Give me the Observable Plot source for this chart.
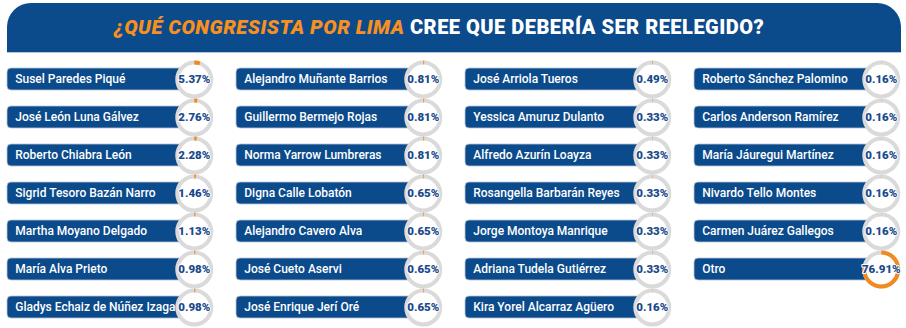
<!DOCTYPE html>
<html>
<head>
<meta charset="utf-8">
<script src="https://cdn.jsdelivr.net/npm/d3@7"></script>
<script src="https://cdn.jsdelivr.net/npm/@observablehq/plot@0.6"></script>
<style>
  html, body { margin: 0; padding: 0; background: #ffffff; }
  #wrap { width: 906px; height: 328px; position: relative; overflow: hidden; }
  #header {
    position: absolute; left: 7px; top: 3px; width: 894px; height: 49px;
    background: #0b4a8b; border-radius: 24px 24px 0 0;
    border-bottom: 1px solid #b9c3d3;
    font-family: Roboto, sans-serif; font-weight: 900; font-size: 20px;
    line-height: 49px; color: #ffffff; white-space: nowrap;
  }
  #header .t { position: absolute; left: 0; width: 864px; text-align: center; top: 0; letter-spacing: 0.5px; }
  #header .o { color: #f7901e; font-style: italic; }
  #chart { position: absolute; left: 0; top: 52px; }
</style>
</head>
<body>
<div id="wrap">
  <div id="header"><span class="t"><span class="o">¿QUÉ CONGRESISTA POR LIMA</span> CREE QUE DEBERÍA SER REELEGIDO?</span></div>
  <div id="chart"></div>
</div>
<script>
const names = [
  "Susel Paredes Piqué", "José León Luna Gálvez", "Roberto Chiabra León",
  "Sigrid Tesoro Bazán Narro", "Martha Moyano Delgado", "María Alva Prieto",
  "Gladys Echaiz de Núñez Izaga",
  "Alejandro Muñante Barrios", "Guillermo Bermejo Rojas", "Norma Yarrow Lumbreras",
  "Digna Calle Lobatón", "Alejandro Cavero Alva", "José Cueto Aservi",
  "José Enrique Jerí Oré",
  "José Arriola Tueros", "Yessica Amuruz Dulanto", "Alfredo Azurín Loayza",
  "Rosangella Barbarán Reyes", "Jorge Montoya Manrique", "Adriana Tudela Gutiérrez",
  "Kira Yorel Alcarraz Agüero",
  "Roberto Sánchez Palomino", "Carlos Anderson Ramírez", "María Jáuregui Martínez",
  "Nivardo Tello Montes", "Carmen Juárez Gallegos", "Otro"
];
const values = [
  5.37, 2.76, 2.28, 1.46, 1.13, 0.98, 0.98,
  0.81, 0.81, 0.81, 0.65, 0.65, 0.65, 0.65,
  0.49, 0.33, 0.33, 0.33, 0.33, 0.33, 0.16,
  0.16, 0.16, 0.16, 0.16, 0.16, 76.91
];
const rowsPerColumn = 7;

const data = names.map((name, i) => ({
  name, value: values[i],
  col: Math.floor(i / rowsPerColumn),
  row: i % rowsPerColumn
}));

const BLUE = "#0b4a8b", ORANGE = "#f28a1f", GRAY = "#dadada", PCT = "#1b4a8c";
const colW = 229.5, ringDx = 187 - colW / 2;

function arcSymbol(frac) {
  return {
    draw(context, size) {
      const r = Math.sqrt(size / Math.PI);
      const a0 = -Math.PI / 2, a1 = a0 + 2 * Math.PI * Math.max(frac, 0.0001);
      context.arc(0, 0, r, a0, a1);
    }
  };
}

const chart = Plot.plot({
  width: 906,
  height: 276,
  margin: 0,
  x: {type: "band", domain: d3.range(4), range: [6, 6 + 4 * colW], padding: 0, axis: null},
  y: {type: "band", domain: d3.range(rowsPerColumn), range: [5.1, 5.1 + 7 * 38.83], padding: 0, axis: null},
  marks: [
    Plot.cell(data, {
      x: "col", y: "row", fill: BLUE, stroke: "#b7c4d8", strokeWidth: 0.8,
      insetTop: 8, insetBottom: 8, insetRight: colW - 187, rx: 4
    }),
    Plot.text(data, {
      x: "col", y: "row", text: "name", dx: 8 - colW / 2, textAnchor: "start",
      fill: "white", fontSize: 12, fontWeight: 500, fontFamily: "Roboto"
    }),
    Plot.dot(data, {
      x: "col", y: "row", dx: ringDx, r: 17, fill: "white", stroke: GRAY, strokeWidth: 4
    }),
    ...data.map(d => Plot.dot([d], {
      x: "col", y: "row", dx: ringDx, r: 17, fill: "none", stroke: ORANGE, strokeWidth: 4,
      symbol: arcSymbol(d.value / 100)
    })),
    Plot.text(data, {
      x: "col", y: "row", dx: ringDx, text: d => d.value.toFixed(2) + "%",
      fill: PCT, stroke: "white", strokeWidth: 2, fontSize: 11.5, fontWeight: 900,
      fontFamily: "Roboto, sans-serif"
    })
  ]
});
document.getElementById("chart").append(chart);
</script>
</body>
</html>
